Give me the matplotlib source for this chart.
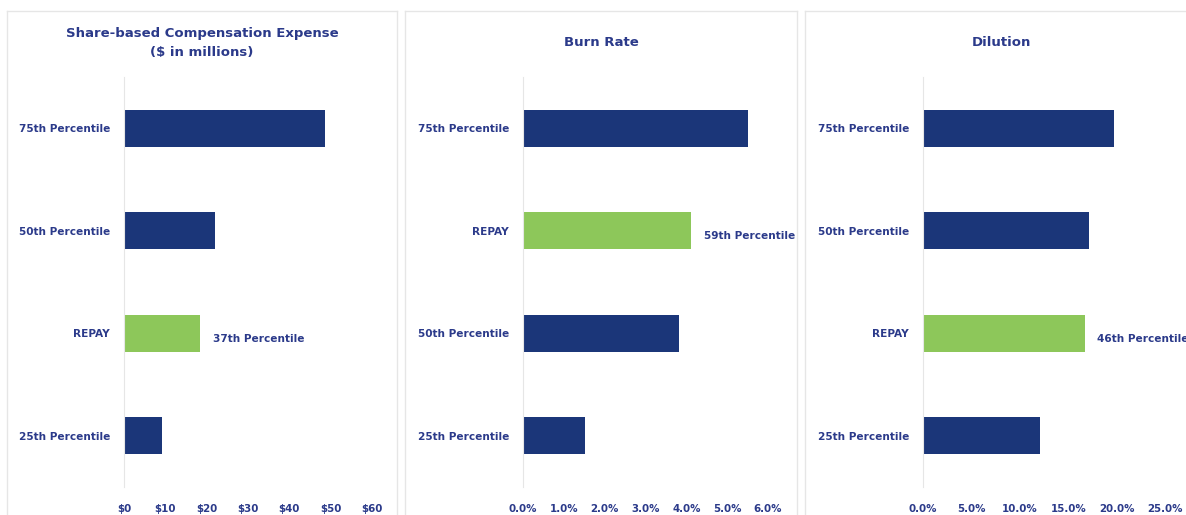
import matplotlib.pyplot as plt
from matplotlib.lines import Line2D
from matplotlib.ticker import FuncFormatter

# data (bottom to top)
comp_cats = ["25th Percentile", "REPAY", "50th Percentile", "75th Percentile"]
comp_vals = [9.2, 18.4, 22.0, 48.7]

burn_cats = ["25th Percentile", "50th Percentile", "REPAY", "75th Percentile"]
burn_vals = [1.52, 3.82, 4.12, 5.51]

dil_cats = ["25th Percentile", "REPAY", "50th Percentile", "75th Percentile"]
dil_vals = [12.1, 16.7, 17.2, 19.7]

comp_ticks = [0, 10, 20, 30, 40, 50, 60]
burn_ticks = [0, 1, 2, 3, 4, 5, 6]
dil_ticks = [0, 5, 10, 15, 20, 25]

repay_labels = {"comp": "37th Percentile", "burn": "59th Percentile", "dil": "46th Percentile"}

NAVY = "#1b3679"
GREEN = "#8dc75a"
TEXT = "#2b3a8a"
GRID = "#e6e6e6"
FONT = ["DejaVu Sans"]

W, H = 1186, 515
fig = plt.figure(figsize=(W / 100, H / 100), dpi=100)
fig.patch.set_facecolor("white")

def fx(px):
    return px / W

def fy(py):
    return 1 - py / H

# light panel borders
borders = [(7, 397), (405, 797), (805, 1197)]
for x0, x1 in borders:
    fig.add_artist(Line2D([fx(x0), fx(x1)], [fy(11), fy(11)], color=GRID, lw=1))
    fig.add_artist(Line2D([fx(x0), fx(x0)], [fy(11), fy(515)], color=GRID, lw=1))
    fig.add_artist(Line2D([fx(x1), fx(x1)], [fy(11), fy(515)], color=GRID, lw=1))


def panel(left_px, right_px, box, cats, vals, ticks, fmt, title, title_y, note):
    ax = fig.add_axes([fx(left_px), fy(487), fx(right_px - left_px), (487 - 77) / H])
    colors = [GREEN if c == "REPAY" else NAVY for c in cats]
    ax.barh(range(len(cats)), vals, height=0.36, color=colors)
    ax.set_ylim(-0.5, len(cats) - 0.5)
    ax.set_xlim(ticks[0], ticks[-1])
    ax.set_xticks(ticks)
    ax.xaxis.set_major_formatter(FuncFormatter(fmt))
    ax.set_yticks(range(len(cats)))
    ax.set_yticklabels(cats)
    for s in ["top", "right", "bottom"]:
        ax.spines[s].set_visible(False)
    ax.spines["left"].set_color(GRID)
    ax.tick_params(length=0, colors=TEXT, labelsize=7.6)
    ax.tick_params(axis="x", pad=12, labelsize=7.4)
    ax.tick_params(axis="y", pad=10)
    for lab in ax.get_xticklabels() + ax.get_yticklabels():
        lab.set_fontweight("bold")
        lab.set_family(FONT)
    i = cats.index("REPAY")
    ax.annotate(note, xy=(vals[i], i), xytext=(9, -4), textcoords="offset points",
                ha="left", va="center", color=TEXT, fontsize=7.6,
                fontweight="bold", family=FONT, annotation_clip=False)
    cx = (box[0] + box[1]) / 2
    fig.text(fx(cx), fy(title_y), title, ha="center", va="center", color=TEXT,
             fontsize=9.5, fontweight="bold", family=FONT, linespacing=1.6)
    return ax


panel(124, 372, borders[0], comp_cats, comp_vals, comp_ticks, lambda v, p: f"${v:.0f}",
      "Share-based Compensation Expense\n($ in millions)", 43, repay_labels["comp"])
panel(523, 768, borders[1], burn_cats, burn_vals, burn_ticks, lambda v, p: f"{v:.1f}%",
      "Burn Rate", 42, repay_labels["burn"])
panel(923, 1165, borders[2], dil_cats, dil_vals, dil_ticks, lambda v, p: f"{v:.1f}%",
      "Dilution", 42, repay_labels["dil"])

fig.savefig("out.png", dpi=100)
